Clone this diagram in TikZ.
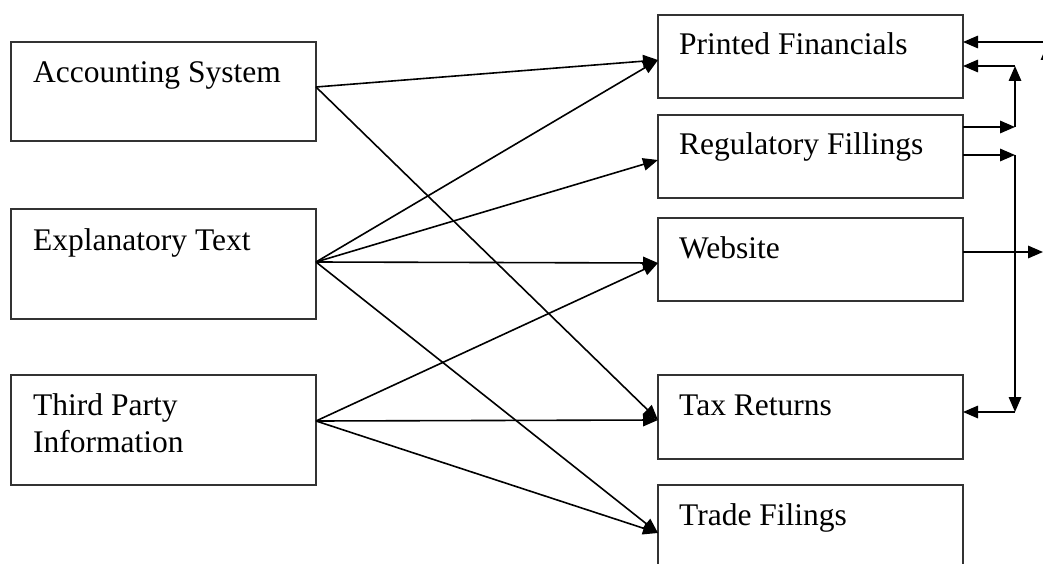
\documentclass[tikz,border=0pt]{standalone}
\usepackage{fontspec}
\setmainfont{Liberation Serif}
\usetikzlibrary{arrows.meta}
\begin{document}
\begin{tikzpicture}[x=1pt,y=-1pt,
  box/.style={draw=black!80,line width=1.9pt,minimum width=305pt,inner sep=0pt,outer sep=0pt},
  lbl/.style={anchor=base west,inner sep=0pt,font=\fontsize{31.5}{37}\selectfont},
  link/.style={line width=1.6pt,-{Triangle[length=15pt,width=12.5pt]}}]
\useasboundingbox (0,0) rectangle (1043,564);

% sources
\node[box,minimum height=99pt]  (acc) at (163.5,91.5) {};
\node[lbl] (accT) at (33,83) {Accounting System};
\node[box,minimum height=110pt] (exp) at (163.5,264) {};
\node[lbl] (expT) at (33,250) {Explanatory Text};
\node[box,minimum height=110pt] (tp)  at (163.5,430) {};
\node[lbl] (tpA) at (33,415) {Third Party};
\node[lbl] (tpB) at (33,452) {Information};

% outputs
\node[box,minimum height=83pt] (pf)    at (810.5,56.5)  {};
\node[lbl] (pfT) at (679,55) {Printed Financials};
\node[box,minimum height=83pt] (rf)    at (810.5,156.5) {};
\node[lbl] (rfT) at (679,155) {Regulatory Fillings};
\node[box,minimum height=83pt] (web)   at (810.5,259.5) {};
\node[lbl] (webT) at (679,258) {Website};
\node[box,minimum height=84pt] (tax)   at (810.5,417)   {};
\node[lbl] (taxT) at (679,415) {Tax Returns};
\node[box,minimum height=84pt] (trade) at (810.5,527)   {};
\node[lbl] (tradeT) at (679,525) {Trade Filings};

% source to output links
\draw[link] ([yshift=4.5pt]acc.east) -- ([yshift=-3.5pt]pf.west);
\draw[link] ([yshift=4.5pt]acc.east) -- ([yshift=-3pt]tax.west);
\draw[link] ([yshift=2pt]exp.east) -- ([yshift=-3.5pt]pf.west);
\draw[link] ([yshift=2pt]exp.east) -- ([yshift=-3.5pt]rf.west);
\draw[link] ([yshift=2pt]exp.east) -- ([yshift=-3.5pt]web.west);
\draw[link] ([yshift=2pt]exp.east) -- ([yshift=-6pt]trade.west);
\draw[link] ([yshift=9pt]tp.east) -- ([yshift=-3.5pt]web.west);
\draw[link] ([yshift=9pt]tp.east) -- ([yshift=-3pt]tax.west);
\draw[link] ([yshift=9pt]tp.east) -- ([yshift=-6pt]trade.west);

% feedback links on the right
\coordinate (j1) at (1015,127);
\coordinate (j2) at (1015,66);
\coordinate (j3) at (1015,155);
\coordinate (j4) at (1015,412);
\coordinate (wout) at (1043,252);
\coordinate (pfin) at (1060,42);
\coordinate (ua) at (1047,90);
\coordinate (ub) at (1047,45);

\draw[link] ([yshift=29.5pt]rf.east) -- (j1);
\draw[link] (j1) -- (j2);
\draw[link] (j2) -- ([yshift=-9.5pt]pf.east);
\draw[link] ([yshift=1.5pt]rf.east) -- (j3);
\draw[link] (j3) -- (j4);
\draw[link] (j4) -- ([yshift=5pt]tax.east);
\draw[link] ([yshift=7.5pt]web.east) -- (wout);
\draw[link] (pfin) -- ([yshift=14.5pt]pf.east);
\draw[link] (ua) -- (ub);
\end{tikzpicture}
\end{document}
